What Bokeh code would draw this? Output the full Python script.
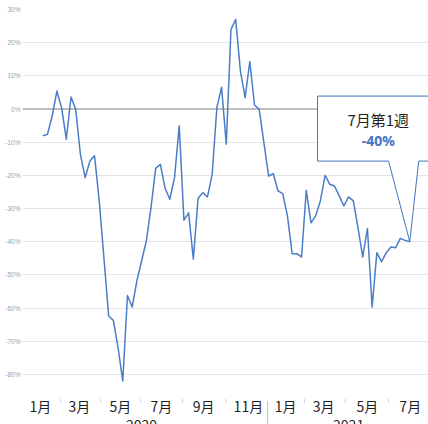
from bokeh.plotting import figure
from bokeh.models import FixedTicker, Span, Range1d
from bokeh.core.properties import value
from bokeh.embed import file_html
from bokeh.resources import INLINE

# ---- data (weekly change, %) ----
values = [-8.1, -7.6, -2.1, 5.4, 0.4, -9.1, 3.6, -0.1, -13.7, -20.7,
          -15.7, -14.1, -27.7, -45.0, -62.4, -63.7, -71.9, -82.0, -56.2, -59.7,
          -51.8, -45.8, -39.8, -29.7, -17.9, -16.7, -23.9, -27.2, -20.7, -5.1,
          -33.5, -31.3, -45.3, -27.0, -25.2, -26.5, -19.7, 0.4, 6.6, -10.6,
          24.0, 27.0, 11.5, 3.4, 14.3, 1.2, -0.1, -10.2, -20.2, -19.5,
          -24.7, -25.5, -32.2, -43.6, -43.6, -44.6, -24.5, -34.3, -32.2, -27.7,
          -20.0, -22.7, -23.2, -26.2, -29.2, -26.5, -27.7, -35.8, -44.6, -36.0,
          -59.7, -43.3, -46.0, -43.3, -41.6, -41.8, -39.0, -39.6, -40.0]
weeks = list(range(len(values)))

month_labels = ["1月", "3月", "5月", "7月", "9月", "11月", "1月", "3月", "5月", "7月"]
month_pos = [-0.5, 7.8, 16.5, 25.2, 34.2, 43.7, 51.6, 59.7, 69.0, 78.1]
mark_pos = [3.8, 12.3, 20.8, 29.7, 38.9, 55.6, 64.3, 73.5]
year_labels = ["2020", "2021"]
year_pos = [21.0, 65.0]
year_sep = 47.8
y_ticks = list(range(-80, 31, 10))
callout_title = "7月第1週"
callout_value = "-40%"

BLUE = "#4472C4"
LINE_BLUE = "#4A7CC7"

p = figure(width=428, height=424,
           x_range=Range1d(-4.31, 81.98), y_range=Range1d(-95.1, 30),
           output_backend="svg", toolbar_location=None,
           min_border_left=22, min_border_right=0, min_border_top=9, min_border_bottom=0)
p.outline_line_color = None
p.background_fill_color = "white"
p.border_fill_color = "white"

# grid
p.xgrid.visible = False
p.ygrid.ticker = FixedTicker(ticks=y_ticks)
p.ygrid.grid_line_color = "#e4e4e4"
p.ygrid.grid_line_width = 1

# y axis
ya = p.yaxis[0]
ya.ticker = FixedTicker(ticks=y_ticks)
ya.major_label_overrides = {v: f"{v}%" for v in y_ticks}
ya.axis_line_color = None
ya.major_tick_line_color = None
ya.minor_tick_line_color = None
ya.major_tick_out = 0
ya.major_tick_in = 0
ya.minor_tick_out = 0
ya.major_label_standoff = 2
ya.major_label_text_font = "Liberation Sans"
ya.major_label_text_font_size = "6.5px"
ya.major_label_text_color = "#a0a0a0"

# x axis (labels placed below the -80% level)
xa = p.xaxis[0]
xa.fixed_location = -80
xa.ticker = FixedTicker(ticks=month_pos)
xa.major_label_overrides = {v: t for v, t in zip(month_pos, month_labels)}
xa.axis_line_color = None
xa.major_tick_line_color = None
xa.minor_tick_line_color = None
xa.major_tick_out = 0
xa.major_tick_in = 0
xa.minor_tick_out = 0
xa.major_label_standoff = 22
xa.major_label_text_font = "Noto Sans CJK JP"
xa.major_label_text_font_size = "14px"
xa.major_label_text_color = "#1f1f1f"

# 0% axis line
p.add_layout(Span(location=0, dimension="width", line_color="#bfbfbf",
                  line_width=2, level="underlay"))

# small divider marks and year separator
p.segment(x0=mark_pos, y0=[-87.4] * len(mark_pos), x1=mark_pos, y1=[-88.6] * len(mark_pos),
          line_color="#d0d0d0", line_width=1)
p.segment(x0=[year_sep], y0=[-88.0], x1=[year_sep], y1=[-97.0],
          line_color="#bfbfbf", line_width=1)
p.text(x=year_pos, y=[-93.4] * 2, text=year_labels, text_align="center",
       text_baseline="top", text_font=value("Noto Sans CJK JP"),
       text_font_size="14px", text_color="#1f1f1f")

# data line
p.line(weeks, values, line_color=LINE_BLUE, line_width=1.5, line_join="round")

# callout anchored at the last point
lx, ly = weeks[-1], values[-1]
cx = [lx - 19.6, lx + 8.0, lx + 8.0, lx + 1.9, lx, lx - 4.5, lx - 19.6]
cy = [ly + 43.9, ly + 43.9, ly + 24.3, ly + 24.3, ly, ly + 24.3, ly + 24.3]
p.patch(cx, cy, fill_color="white", line_color=BLUE, line_width=1)
p.text(x=[lx - 6.7], y=[ly + 36.7], text=[callout_title], text_align="center",
       text_baseline="middle", text_font=value("Noto Sans CJK JP"),
       text_font_size="15px", text_color="#1f1f1f")
p.text(x=[lx - 6.7], y=[ly + 30.6], text=[callout_value], text_align="center",
       text_baseline="middle", text_font=value("Noto Sans"), text_font_style="bold",
       text_font_size="14px", text_color=BLUE)

open("out.html", "w").write(file_html(p, INLINE))
